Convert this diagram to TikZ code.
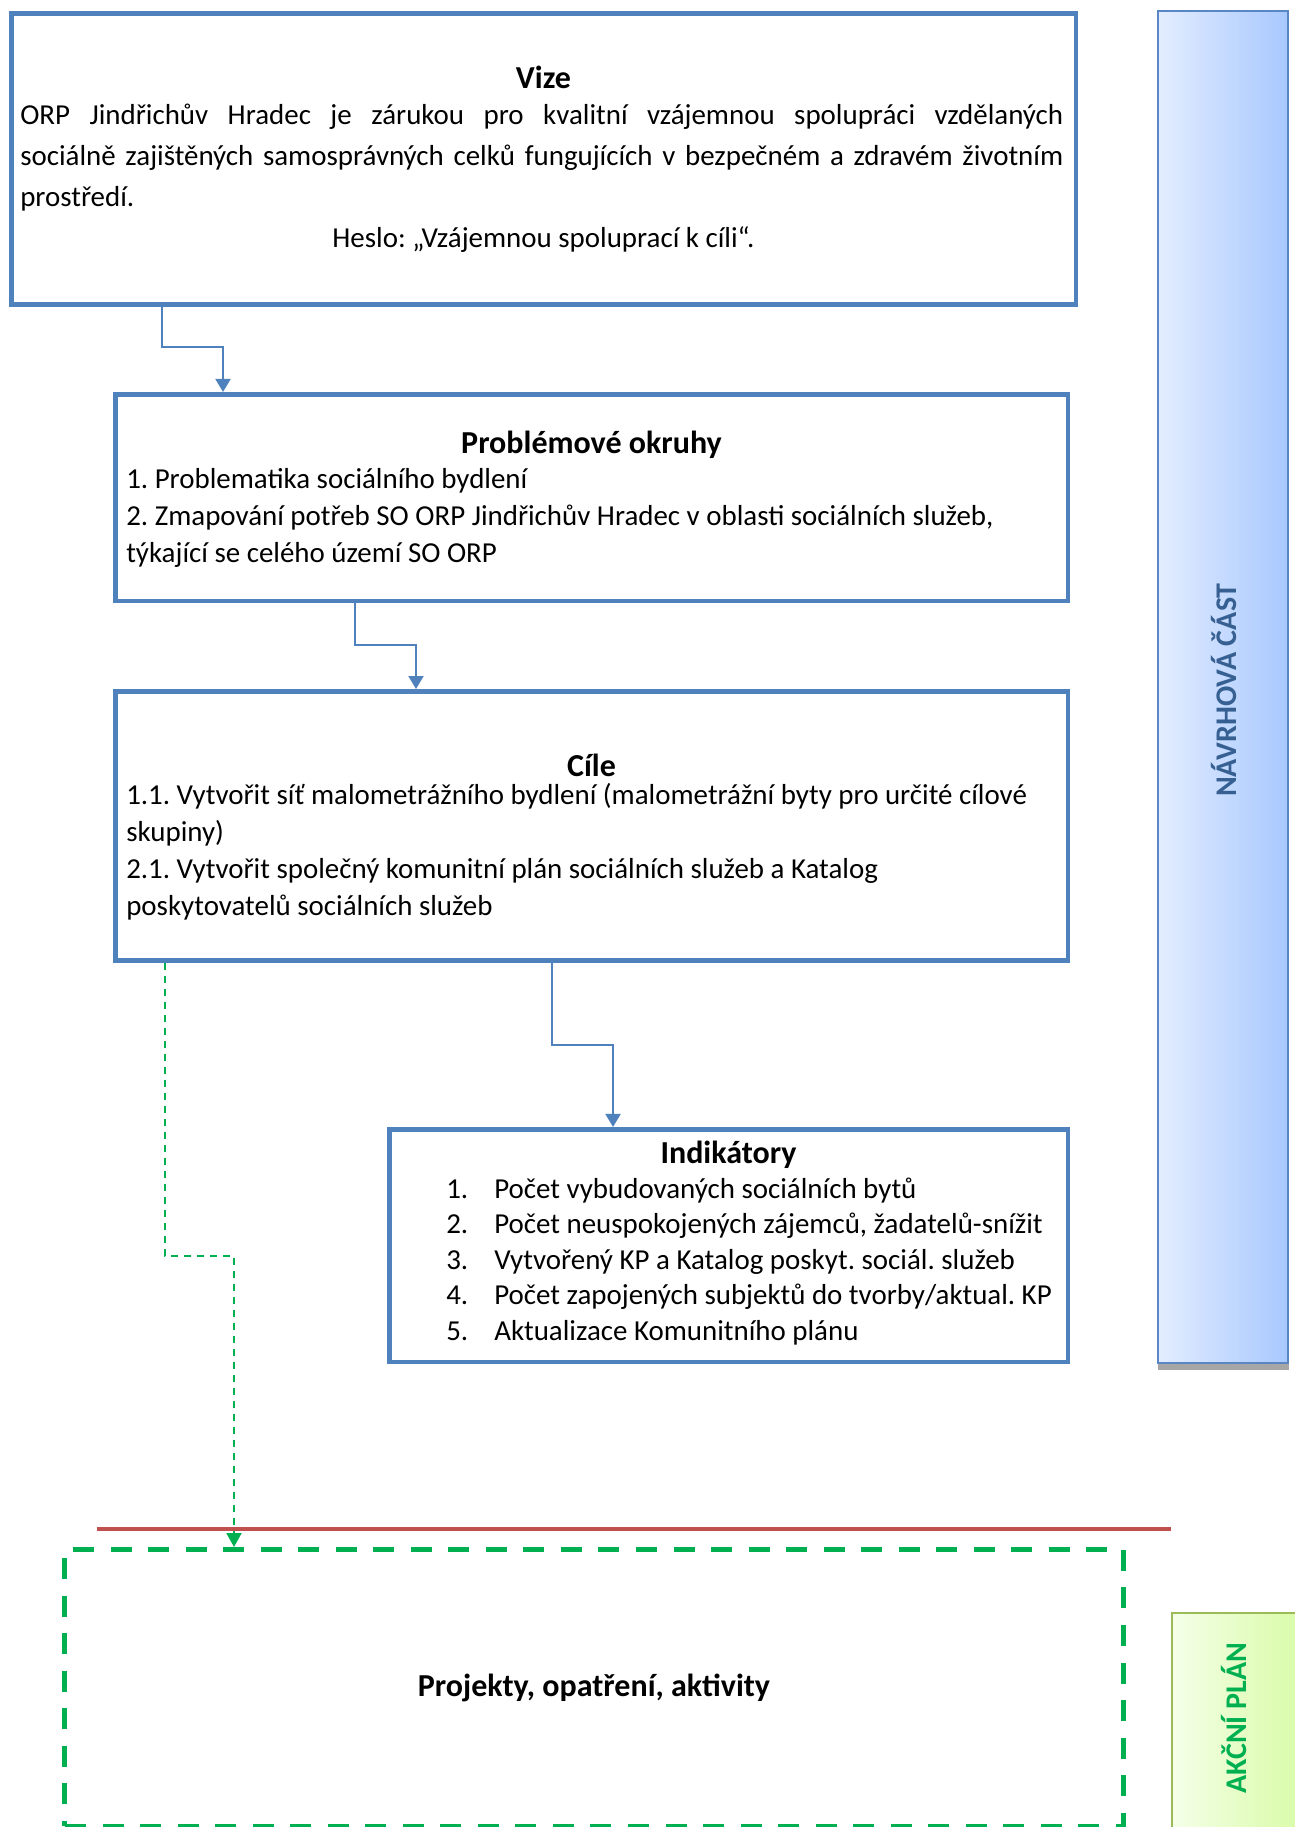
\documentclass[tikz,border=0pt]{standalone}
\usepackage{fontspec}
\setmainfont{Carlito}
\usetikzlibrary{arrows.meta}
\definecolor{boxblue}{HTML}{4F81BD}
\definecolor{barblue}{HTML}{5A87C4}
\definecolor{barblueL}{HTML}{E3EDFF}
\definecolor{barblueR}{HTML}{A8C8FE}
\definecolor{labblue}{HTML}{376092}
\definecolor{wgreen}{HTML}{00B050}
\definecolor{bargreen}{HTML}{9BBB59}
\definecolor{bargreenL}{HTML}{F5FFE8}
\definecolor{bargreenR}{HTML}{D8FBA6}
\definecolor{redline}{HTML}{C0504D}
\begin{document}
\frenchspacing
\begin{tikzpicture}[x=0.75pt,y=-0.75pt,
  mainbox/.style={draw=boxblue, line width=3.4pt, rectangle, inner sep=0pt},
  txt/.style={inner sep=0pt, font=\fontsize{21.7}{27.75}\selectfont},
  ttl/.style={inner sep=0pt, anchor=base, font=\fontsize{24}{28}\selectfont\bfseries},
  conn/.style={draw=boxblue, line width=1.5pt, -{Triangle[width=11.25pt,length=9.75pt]}},
  gconn/.style={draw=wgreen, line width=1.5pt, dash pattern=on 5.25pt off 4.5pt, -{Triangle[width=11.25pt,length=10.5pt]}},
  sidelab/.style={rotate=90, inner sep=0pt, font=\fontsize{22.5}{27}\selectfont\bfseries}
]
\useasboundingbox (0,0) rectangle (1295,1827);

% side bars
\fill[gray!70] (1158,1362) rectangle (1289,1370);
\node[draw=barblue, line width=1.7pt, left color=barblueL, right color=barblueR,
  minimum width=97.5pt, minimum height=1014pt, inner sep=0pt] (navbar) at (1223,687) {};
\node[sidelab, text=labblue] (navlab) at (1224,690) {NÁVRHOVÁ ČÁST};
\node[draw=bargreen, line width=1.2pt, left color=bargreenL, right color=bargreenR,
  minimum width=100pt, minimum height=170pt, inner sep=0pt, anchor=north west] (akbar) at (1171,1612) {};
\node[sidelab, text=wgreen] (aklab) at (1234,1718) {AKČNÍ PLÁN};

% main boxes
\node[mainbox, minimum width=798.4pt, minimum height=218.6pt] (vize) at (543.5,159) {};
\node[mainbox, minimum width=714.4pt, minimum height=154.9pt] (probl) at (591.5,497.5) {};
\node[mainbox, minimum width=714.4pt, minimum height=202.1pt] (cile) at (591.5,826) {};
\node[mainbox, minimum width=508.9pt, minimum height=174.4pt] (indik) at (728.5,1245.5) {};
\node[draw=wgreen, line width=3.75pt, dash pattern=on 15.75pt off 12.4pt, rectangle, inner sep=0pt,
  minimum width=793.9pt, minimum height=207.4pt] (akce) at (594.25,1687.75) {};

% red separator
\coordinate (redL) at (97,1529);
\coordinate (redR) at (1171,1529);
\draw[redline, line width=3pt] (redL) -- (redR);

% texts in Vize
\node[ttl] (vizettl) at (543.5,89) {Vize};
\node[txt, font=\fontsize{21.7}{30.75}\selectfont, text width=782.25pt, align=justify, anchor=base west] (vizetxt) at (20,124)
 {\hyphenpenalty=10000\relax ORP~Jindřichův~Hradec~je~zárukou~pro~kvalitní~vzájemnou~spolupráci~vzdělaných\linebreak sociálně~zajištěných~samosprávných~celků~fungujících~v~bezpečném~a~zdravém~životním\linebreak prostředí.};
\node[txt, anchor=base] (heslo) at (543.5,247) {Heslo: „Vzájemnou spoluprací k cíli“.};

% texts in Problémové okruhy
\node[ttl] (probttl) at (591.5,453) {Problémové okruhy};
\node[txt, text width=750pt, align=flush left, anchor=base west] (probtxt) at (126,488)
 {1. Problematika sociálního bydlení\\2. Zmapování potřeb SO ORP Jindřichův Hradec v oblasti sociálních služeb,\\týkající se celého území SO ORP};

% texts in Cíle
\node[ttl] (cilettl) at (591.5,776) {Cíle};
\node[txt, text width=750pt, align=flush left, anchor=base west] (ciletxt) at (126,804)
 {1.1. Vytvořit síť malometrážního bydlení (malometrážní byty pro určité cílové\\skupiny)\\2.1. Vytvořit společný komunitní plán sociálních služeb a Katalog\\poskytovatelů sociálních služeb};

% texts in Indikátory
\node[ttl] (indttl) at (728.5,1163) {Indikátory};
\foreach \k/\t [count=\i from 0] in {1/{Počet vybudovaných sociálních bytů},
  2/{Počet neuspokojených zájemců, žadatelů-snížit},
  3/{Vytvořený KP a Katalog poskyt. sociál. služeb},
  4/{Počet zapojených subjektů do tvorby/aktual. KP},
  5/{Aktualizace Komunitního plánu}}{
  \node[txt, anchor=base west] (indn\k) at (446,1198+35.5*\i) {\k.};
  \node[txt, anchor=base west] (indt\k) at (494,1198+35.5*\i) {\t};
}

% Projekty
\node[inner sep=0pt, font=\fontsize{24}{28}\selectfont\bfseries] (akcetxt) at (594,1688) {Projekty, opatření, aktivity};

% connectors
\coordinate (j1) at (223,347);
\coordinate (j2) at (416,645);
\coordinate (j3) at (613,1045);
\coordinate (j4) at (234,1256);
\draw[conn] (vize.south -| 162,0) |- (j1) -- (probl.north -| j1);
\draw[conn] (probl.south -| 355,0) |- (j2) -- (cile.north -| j2);
\draw[conn] (cile.south -| 552,0) |- (j3) -- (indik.north -| j3);
\draw[gconn] (cile.south -| 165,0) |- (j4) -- (akce.north -| j4);
\end{tikzpicture}
\end{document}
